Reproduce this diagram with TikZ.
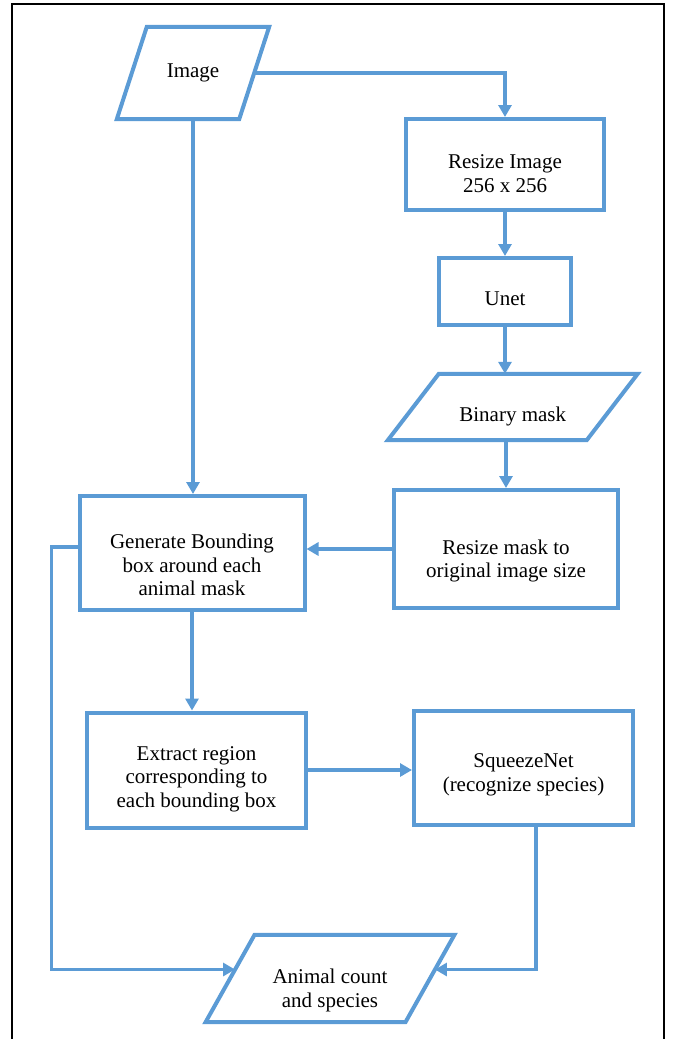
\documentclass[tikz,border=0pt]{standalone}
\usepackage{fontspec}
\setmainfont{Liberation Serif}
\usetikzlibrary{arrows.meta}
\definecolor{flowblue}{HTML}{5B9BD5}

\begin{document}
\begin{tikzpicture}[
    x=1pt, y=-1pt,
    > = {Triangle[length=12pt, width=13pt]},
    box/.style={draw=flowblue, line width=4pt, inner sep=0pt},
    para/.style={inner sep=0pt, font=\fontsize{21}{23.5}\selectfont},
    lbl/.style={font=\fontsize{21}{23.5}\selectfont, align=center},
    flow/.style={draw=flowblue, line width=3.8pt, ->}
]
\useasboundingbox (0,0) rectangle (675,1039);

% outer frame, open at the bottom
\draw[line width=1.2pt] (12,1039) -- (12,4) -- (664,4) -- (664,1039);

% --- Input and segmentation column ---
\node[para, minimum width=122pt, minimum height=92pt] (img) at (193,73) {Image};
\node[box, minimum width=198pt, minimum height=91pt,
      label={[lbl, yshift=-9pt]center:Resize Image\\256 x 256}] (rimg) at (505,164.5) {};
\node[box, minimum width=132pt, minimum height=67pt,
      label={[lbl, yshift=-7pt]center:Unet}] (unet) at (505,291.5) {};
\node[para, minimum width=198.5pt, minimum height=66pt,
      label={[lbl, yshift=-9pt]center:Binary mask}] (bmask) at (512.75,407) {};
\node[box, minimum width=224pt, minimum height=118pt,
      label={[lbl, yshift=-12pt]center:Resize mask to\\original image size}] (rmask) at (506,549) {};

% --- Boxes and species ---
\node[box, minimum width=225pt, minimum height=114pt,
      label={[lbl, yshift=-12pt]center:Generate Bounding\\box around each\\animal mask}] (gen) at (192,553) {};
\node[box, minimum width=219pt, minimum height=115pt,
      label={[lbl, yshift=-9pt]center:Extract region\\corresponding to\\each bounding box}] (ext) at (196.5,770) {};
\node[box, minimum width=219pt, minimum height=114pt,
      label={[lbl, yshift=-7pt]center:SqueezeNet\\(recognize species)}] (sqz) at (523.5,768) {};
\node[para, minimum width=199.5pt, minimum height=87pt,
      label={[lbl, yshift=-12pt]center:Animal count\\and species}] (anim) at (330,978.5) {};

% Parallelogram outlines
\foreach \n/\s in {img/15, bmask/25.5, anim/24.5}
    \draw[draw=flowblue, line width=4pt]
        ([xshift=\s pt]\n.north west) -- ([xshift=\s pt]\n.north east)
        -- ([xshift=-\s pt]\n.south east) -- ([xshift=-\s pt]\n.south west) -- cycle;

% Arrows
\draw[flow] (img.east) -| (rimg.north);
\draw[flow] (rimg.south) -- (unet.north);
\draw[flow] (unet.south) -- (unet.south |- bmask.north);
\draw[flow] (bmask.south -| rmask.north) -- (rmask.north);
\draw[flow] (img.south) -- (img.south |- gen.north);
\draw[flow] (rmask.west) -- (rmask.west -| gen.east);
\draw[flow] (gen.south) -- (gen.south |- ext.north);
\draw[flow] (ext.east) -- (ext.east -| sqz.west);
\draw[flow] ([yshift=6pt]gen.west) -- ++(-26,0) |- ([xshift=5pt, yshift=9pt]anim.west);
\draw[flow] ([xshift=12.5pt]sqz.south) |- ([xshift=5pt, yshift=9pt]anim.east);

\end{tikzpicture}
\end{document}
